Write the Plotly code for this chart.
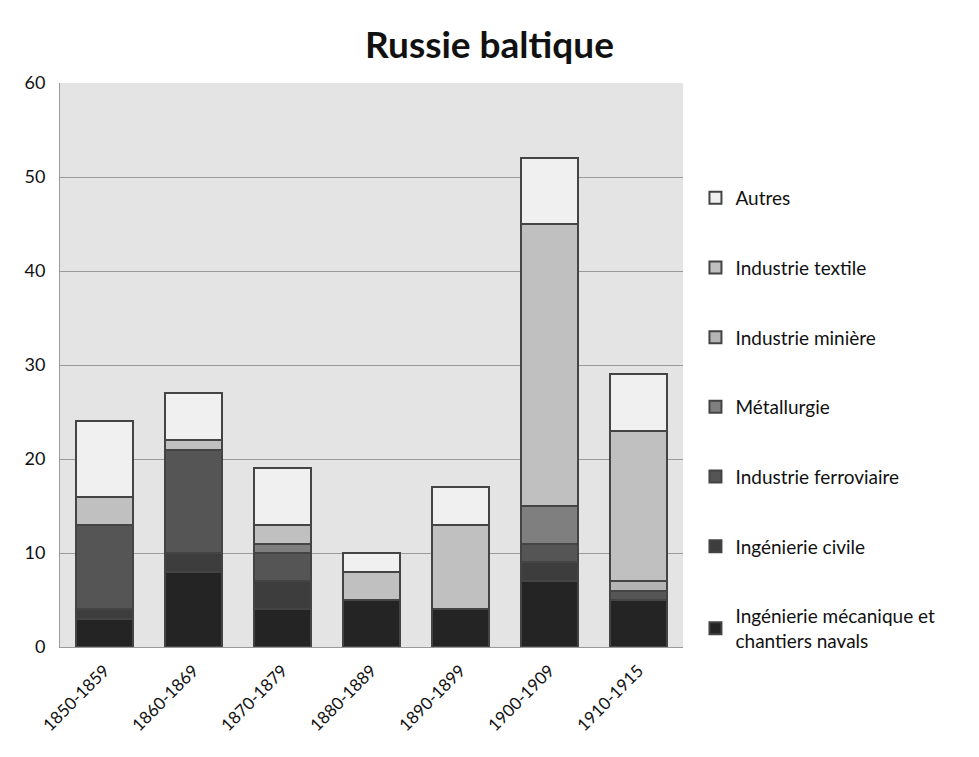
import plotly.graph_objects as go

periods = ["1850-1859", "1860-1869", "1870-1879", "1880-1889", "1890-1899", "1900-1909", "1910-1915"]

mecanique = [3, 8, 4, 5, 4, 7, 5]
civile = [1, 2, 3, 0, 0, 2, 0]
ferroviaire = [9, 11, 3, 0, 0, 2, 1]
metallurgie = [0, 0, 1, 0, 0, 4, 0]
miniere = [0, 0, 0, 0, 0, 0, 1]
textile = [3, 1, 2, 3, 9, 30, 16]
autres = [8, 5, 6, 2, 4, 7, 6]

series = [
    ("Ingénierie mécanique et<br>chantiers navals", mecanique, "#242424"),
    ("Ingénierie civile", civile, "#3d3d3d"),
    ("Industrie ferroviaire", ferroviaire, "#555555"),
    ("Métallurgie", metallurgie, "#7f7f7f"),
    ("Industrie minière", miniere, "#b4b4b4"),
    ("Industrie textile", textile, "#c0c0c0"),
    ("Autres", autres, "#f0f0f0"),
]

fig = go.Figure()
n = len(series)
for i, (name, vals, col) in enumerate(series):
    fig.add_trace(go.Bar(
        x=periods, y=vals, name=name, legendgroup=f"g{i}", legendrank=n - i,
        marker=dict(color=col, line=dict(color="#444444", width=2)),
        width=0.65,
    ))

fig.update_layout(
    barmode="stack",
    width=979, height=757,
    paper_bgcolor="white",
    plot_bgcolor="#e4e4e4",
    margin=dict(l=60, r=296, t=83, b=110),
    title=dict(text="<b>Russie baltique</b>", x=0.5, xanchor="center", y=0.94, yanchor="middle",
               font=dict(family="Lato, sans-serif", size=37, color="#111111")),
    font=dict(family="Lato, sans-serif", color="#111111"),
    showlegend=True,
    legend=dict(x=1.02, y=0.83, yanchor="top", xanchor="left",
                traceorder="grouped", tracegroupgap=42,
                font=dict(size=19, family="Lato, sans-serif"), bgcolor="rgba(0,0,0,0)"),
    bargap=0.35,
)
fig.update_yaxes(range=[0, 60], dtick=10, showgrid=True, gridcolor="#9a9a9a", gridwidth=1,
                 showline=True, linecolor="#9a9a9a", ticks="", tickfont=dict(size=18),
                 zeroline=False, ticklabelstandoff=10)
fig.update_xaxes(tickangle=-45, tickfont=dict(size=17), showline=True, linecolor="#9a9a9a",
                 ticks="", ticklabelstandoff=6)

fig.write_html("out.html")
